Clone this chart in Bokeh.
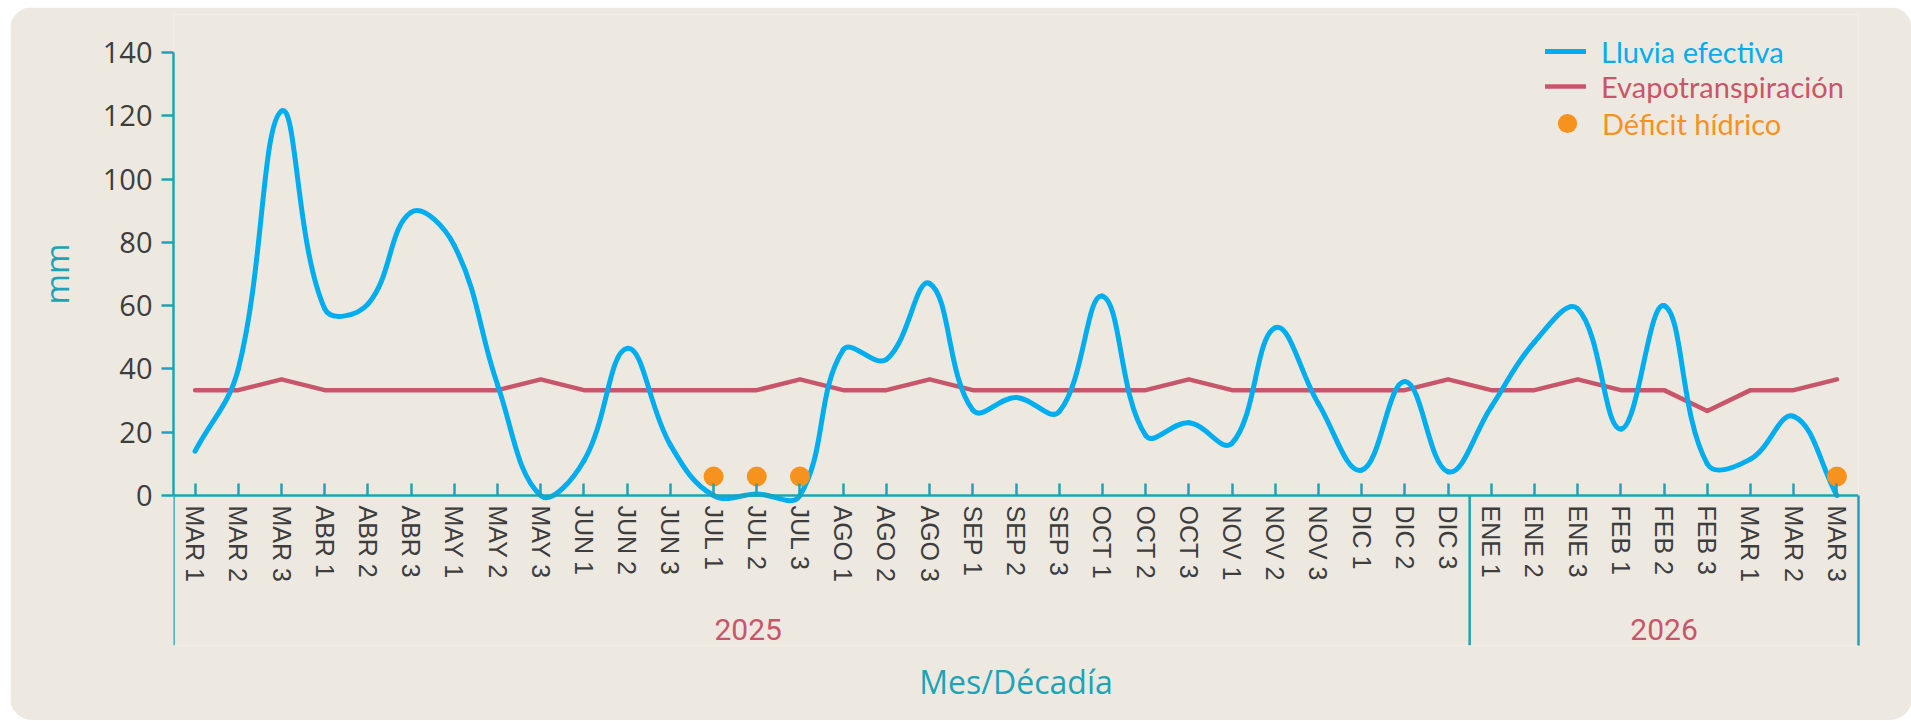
import math
from bokeh.plotting import figure
from bokeh.models import (FactorRange, Range1d, ColumnDataSource, FixedTicker, LinearAxis,
                          Legend, LegendItem, Label, Title)
from bokeh.embed import file_html
from bokeh.resources import INLINE

# ---------------- data ----------------
years = ["2025", "2026"]
decadas_2025 = ["MAR 1", "MAR 2", "MAR 3", "ABR 1", "ABR 2", "ABR 3", "MAY 1", "MAY 2", "MAY 3",
                "JUN 1", "JUN 2", "JUN 3", "JUL 1", "JUL 2", "JUL 3", "AGO 1", "AGO 2", "AGO 3",
                "SEP 1", "SEP 2", "SEP 3", "OCT 1", "OCT 2", "OCT 3", "NOV 1", "NOV 2", "NOV 3",
                "DIC 1", "DIC 2", "DIC 3"]
decadas_2026 = ["ENE 1", "ENE 2", "ENE 3", "FEB 1", "FEB 2", "FEB 3", "MAR 1", "MAR 2", "MAR 3"]

lluvia_efectiva = [14, 40, 121.5, 59, 60.5, 89.5, 79, 35, 0,
                   11, 46.5, 16, 0, 0.5, 0, 46, 43, 67,
                   27, 31, 26.5, 63, 19, 23, 16.5, 53, 29,
                   8, 36, 7.5,
                   28, 48.5, 59, 21, 60, 10, 11.5, 25, 0]
evapotranspiracion = [33.3, 33.3, 36.7, 33.3, 33.3, 33.3, 33.3, 33.3, 36.7,
                      33.3, 33.3, 33.3, 33.3, 33.3, 36.7, 33.3, 33.3, 36.7,
                      33.3, 33.3, 33.3, 33.3, 33.3, 36.7, 33.3, 33.3, 33.3,
                      33.3, 33.3, 36.7,
                      33.3, 33.3, 36.7, 33.3, 33.3, 26.7, 33.3, 33.3, 36.7]
deficit_cats = [("2025", "JUL 1"), ("2025", "JUL 2"), ("2025", "JUL 3"), ("2026", "MAR 3")]
deficit_vals = [6, 6, 6, 6]
y_ticks = [0, 20, 40, 60, 80, 100, 120, 140]

# ---------------- style ----------------
BG = "#EDE9E1"
TEAL = "#1DA3B7"
BLUE = "#00AEEF"
RED = "#C8566B"
ORANGE = "#F7921E"
DARK = "#3D3D3D"

FRAME_W, FRAME_H = 1685, 631
Y_AXIS_MAX = 140
Y_TOP, Y_BOTTOM = 152, -47.4

factors = [(years[0], c) for c in decadas_2025] + [(years[1], c) for c in decadas_2026]
n = len(factors)

p = figure(x_range=FactorRange(*factors, group_padding=0, factor_padding=0, range_padding=0),
           y_range=Range1d(Y_BOTTOM, Y_TOP),
           frame_width=FRAME_W, frame_height=FRAME_H,
           min_border_left=159, min_border_right=54, min_border_top=7, min_border_bottom=75,
           output_backend="svg", toolbar_location=None,
           background_fill_color=BG, border_fill_color=BG, outline_line_color=None)
p.grid.visible = False
p.styles = {"border-radius": "22px", "overflow": "hidden",
            "margin-left": "10px", "margin-top": "7px"}

# ---------------- evapotranspiration line ----------------
src_evapo = ColumnDataSource(dict(x=factors, y=evapotranspiracion))
r_evapo = p.line("x", "y", source=src_evapo, line_color=RED, line_width=4.5,
                 line_join="round", line_cap="round")

# ---------------- smooth rain curve (bezier through data points) ----------------
SX = FRAME_W / n
SY = FRAME_H / (Y_TOP - Y_BOTTOM)
pts = [((i + 0.5) * SX, v * SY) for i, v in enumerate(lluvia_efectiva)]
tension = 0.4
cps = []
for i in range(n):
    pp = pts[i - 1] if i > 0 else pts[i]
    cc = pts[i]
    nn = pts[i + 1] if i < n - 1 else pts[i]
    d01 = math.hypot(cc[0] - pp[0], cc[1] - pp[1])
    d12 = math.hypot(nn[0] - cc[0], nn[1] - cc[1])
    tot = d01 + d12
    s01 = d01 / tot if tot else 0
    s12 = d12 / tot if tot else 0
    fa, fb = tension * s01, tension * s12
    prev_cp = (cc[0] - fa * (nn[0] - pp[0]), cc[1] - fa * (nn[1] - pp[1]))
    next_cp = (cc[0] + fb * (nn[0] - pp[0]), cc[1] + fb * (nn[1] - pp[1]))
    cps.append((prev_cp, next_cp))

bz = dict(x0=[], y0=[], x1=[], y1=[], cx0=[], cy0=[], cx1=[], cy1=[])
for i in range(n - 1):
    bz["x0"].append(pts[i][0] / SX); bz["y0"].append(pts[i][1] / SY)
    bz["x1"].append(pts[i + 1][0] / SX); bz["y1"].append(pts[i + 1][1] / SY)
    bz["cx0"].append(cps[i][1][0] / SX); bz["cy0"].append(cps[i][1][1] / SY)
    bz["cx1"].append(cps[i + 1][0][0] / SX); bz["cy1"].append(cps[i + 1][0][1] / SY)
r_lluvia = p.bezier("x0", "y0", "x1", "y1", "cx0", "cy0", "cx1", "cy1",
                    source=ColumnDataSource(bz), line_color=BLUE, line_width=5, line_cap="round")

# ---------------- deficit points ----------------
r_def = p.scatter(x=deficit_cats, y=deficit_vals, size=20, fill_color=ORANGE, line_color=None)

# ---------------- axes ----------------
yax = p.yaxis[0]
yax.ticker = FixedTicker(ticks=y_ticks)
yax.bounds = (0, Y_AXIS_MAX)
yax.major_label_text_font = "Open Sans"
yax.major_label_text_font_size = "29px"
yax.major_label_text_color = DARK
yax.major_label_standoff = 9
yax.major_tick_out = 12
yax.major_tick_in = 0
yax.minor_tick_out = 0
yax.minor_tick_in = 0
yax.axis_line_color = TEAL
yax.axis_line_width = 2.5
yax.major_tick_line_color = TEAL
yax.major_tick_line_width = 2.5

xax = p.xaxis[0]
xax.fixed_location = 0
xax.major_label_orientation = "vertical"
xax.major_label_text_font = "Liberation Sans"
xax.major_label_text_font_size = "25px"
xax.major_label_text_color = DARK
xax.major_label_standoff = 10
xax.group_text_color = None
xax.separator_line_color = None
xax.major_tick_in = 12
xax.major_tick_out = 0
xax.axis_line_color = TEAL
xax.axis_line_width = 2.5
xax.major_tick_line_color = TEAL
xax.major_tick_line_width = 2.5

# extension of the left rule below zero and right closing rule
ext_left = LinearAxis(fixed_location=0, bounds=(Y_BOTTOM, 0), ticker=FixedTicker(ticks=[]),
                      major_tick_out=0, major_tick_in=0, minor_tick_out=0, minor_tick_in=0,
                      major_label_text_font_size="0px",
                      axis_line_color=TEAL, axis_line_width=2.5)
p.add_layout(ext_left, "left")
ext_right = LinearAxis(bounds=(Y_BOTTOM, 0), ticker=FixedTicker(ticks=[]),
                       major_tick_out=0, major_tick_in=0, minor_tick_out=0, minor_tick_in=0,
                       major_label_text_font_size="0px",
                       axis_line_color=TEAL, axis_line_width=2.5)
p.add_layout(ext_right, "right")

# y title "mm" (placed along the 0-140 part of the rule)
p.add_layout(Title(text="mm", align="right", offset=229, standoff=42, text_font="Open Sans",
                   text_font_size="33px", text_font_style="normal", text_color=TEAL), "left")

# group separator between years
sep_x = len(decadas_2025)
p.segment(x0=[sep_x], y0=[0], x1=[sep_x], y1=[Y_BOTTOM], line_color=TEAL, line_width=2.5)

# year labels
YEAR_Y = -42.3
for txt, xpos in [(years[0], 13.3), (years[1], (len(decadas_2025) + n) / 2)]:
    p.add_layout(Label(x=xpos, y=YEAR_Y, text=txt, text_align="center", text_baseline="middle",
                       text_font="Roboto", text_font_size="30px", text_color=RED))

# x title
p.add_layout(Title(text="Mes/Décadía", align="center", standoff=25, text_font="Open Sans",
                   text_font_size="32px", text_font_style="normal", text_color=TEAL), "below")

# ---------------- legends ----------------
def make_legend(label, rend, color, loc, gw, gh, standoff):
    return Legend(items=[LegendItem(label=label, renderers=[rend])], location=loc,
                  orientation="vertical", border_line_color=None, background_fill_alpha=0,
                  padding=0, margin=0, spacing=0, glyph_width=gw, glyph_height=gh,
                  label_height=gh, label_standoff=standoff, label_text_font="Lato",
                  label_text_font_size="29px", label_text_color=color, level="overlay")

p.add_layout(make_legend("Lluvia efectiva", r_lluvia, BLUE, (1372, 576), 41, 36, 15))
p.add_layout(make_legend("Evapotranspiración", r_evapo, RED, (1372, 541), 41, 36, 15))
p.add_layout(make_legend("Déficit hídrico", r_def, ORANGE, (1370, 498), 48, 48, 11))

open("out.html", "w").write(file_html(p, INLINE))
